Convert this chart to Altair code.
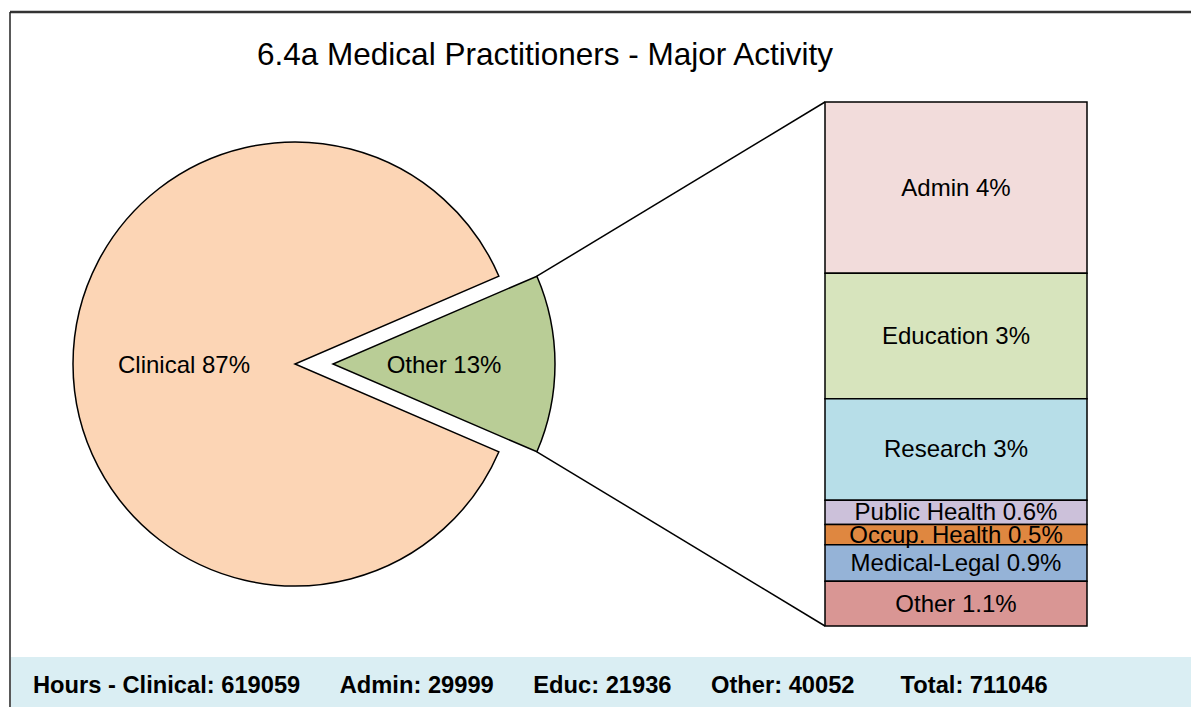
import math
import altair as alt
import pandas as pd

# ---------------- data ----------------
title_text = "6.4a Medical Practitioners - Major Activity"

pie_labels = ["Other", "Clinical"]
pie_pct = [12.94, 87.06]
pie_text = ["Other 13%", "Clinical 87%"]

bar_labels = ["Admin", "Education", "Research", "Public Health",
              "Occup. Health", "Medical-Legal", "Other"]
bar_pct = [4.22, 3.09, 2.50, 0.60, 0.50, 0.90, 1.10]
bar_pct_text = ["4%", "3%", "3%", "0.6%", "0.5%", "0.9%", "1.1%"]

hours_labels = ["Clinical", "Admin", "Educ", "Other", "Total"]
hours_values = [619059, 29999, 21936, 40052, 711046]

# ---------------- styles / layout ----------------
FONT = "Liberation Sans"
pie_colors = ["#B9CD96", "#FCD5B5"]
bar_colors = ["#F2DCDB", "#D7E4BD", "#B7DEE8", "#CCC1DA",
              "#DF8740", "#95B3D7", "#D99694"]
band_color = "#DAEEF3"

W, H = 1183, 699
R = 222
CY = 356
CX_CLIN = 287
EXPLODE = 38
BAR_X0, BAR_X1 = 817, 1079
BAR_TOP, BAR_BOTTOM = 94, 618
LABEL_SIZE = 24

pie_total = sum(pie_pct)
bar_total = sum(bar_pct)
half = math.pi * pie_pct[0] / pie_total
start = math.pi / 2 - half
theta_scale = alt.Scale(domain=[0, pie_total], range=[start, start + 2 * math.pi])

pie_df = pd.DataFrame({"cat": pie_labels, "pct": pie_pct, "text": pie_text,
                       "order": list(range(len(pie_labels)))})
pie_base = alt.Chart(pie_df).transform_window(
    cum="sum(pct)", sort=[alt.SortField("order", order="ascending")], frame=[None, 0]
).transform_calculate(lo="datum.cum - datum.pct", mid="datum.cum - datum.pct / 2")

layers = []

# frame
one = pd.DataFrame({"k": [0]})
layers.append(alt.Chart(one).mark_rect(color=band_color).encode(
    x=alt.value(3), x2=alt.value(W), y=alt.value(649), y2=alt.value(H)))
layers.append(alt.Chart(one).mark_rule(color="#333333", strokeWidth=2.5).encode(
    x=alt.value(2), x2=alt.value(W), y=alt.value(4)))
layers.append(alt.Chart(one).mark_rule(color="#222222", strokeWidth=1.5).encode(
    x=alt.value(2), y=alt.value(4), y2=alt.value(H)))

# pie slices
for i, cat in enumerate(pie_labels):
    cx = CX_CLIN + (EXPLODE if cat == "Other" else 0)
    sub = pie_base.transform_filter(f"datum.order == {i}")
    layers.append(sub.mark_arc(outerRadius=R, stroke="black", strokeWidth=1.5,
                               fill=pie_colors[i]).encode(
        theta=alt.Theta("lo:Q", scale=theta_scale, stack=None),
        theta2="cum:Q",
        x=alt.value(cx), y=alt.value(CY)))
    layers.append(sub.mark_text(radius=R / 2, fontSize=LABEL_SIZE, font=FONT, color="black",
                                dy=2).encode(
        theta=alt.Theta("mid:Q", scale=theta_scale, stack=None),
        text="text:N",
        x=alt.value(cx), y=alt.value(CY)))

# connector lines from the exploded slice to the bar
cxo = CX_CLIN + EXPLODE
ex = cxo + R * math.cos(half)
ey_top = CY - R * math.sin(half)
ey_bot = CY + R * math.sin(half)
layers.append(alt.Chart(one).mark_rule(color="black", strokeWidth=1.5).encode(
    x=alt.value(ex), y=alt.value(ey_top), x2=alt.value(BAR_X0), y2=alt.value(BAR_TOP)))
layers.append(alt.Chart(one).mark_rule(color="black", strokeWidth=1.5).encode(
    x=alt.value(ex), y=alt.value(ey_bot), x2=alt.value(BAR_X0), y2=alt.value(BAR_BOTTOM)))

# stacked bar
bar_df = pd.DataFrame({"cat": bar_labels, "pct": bar_pct,
                       "text": [f"{c} {t}" for c, t in zip(bar_labels, bar_pct_text)],
                       "rank": list(range(len(bar_labels)))})
bar_base = alt.Chart(bar_df).transform_window(
    cum="sum(pct)", sort=[alt.SortField("rank", order="descending")], frame=[None, 0]
).transform_calculate(lo="datum.cum - datum.pct", mid="datum.cum - datum.pct / 2")
y_scale = alt.Scale(domain=[0, bar_total], range=[BAR_BOTTOM, BAR_TOP])

layers.append(bar_base.mark_bar(stroke="black", strokeWidth=1.5).encode(
    x=alt.value(BAR_X0), x2=alt.value(BAR_X1),
    y=alt.Y("lo:Q", scale=y_scale, axis=None), y2="cum:Q",
    color=alt.Color("cat:N", scale=alt.Scale(domain=bar_labels, range=bar_colors), legend=None)))
layers.append(bar_base.mark_text(fontSize=LABEL_SIZE, font=FONT, color="black", dy=1).encode(
    x=alt.value((BAR_X0 + BAR_X1) / 2),
    y=alt.Y("mid:Q", scale=y_scale, axis=None),
    text="text:N"))

# title
layers.append(alt.Chart(pd.DataFrame({"t": [title_text]})).mark_text(
    fontSize=31.5, font=FONT, color="black").encode(
    x=alt.value(537), y=alt.value(48), text="t:N"))

# hours footer
sep = "\u00a0" * 6
hours_text = "Hours -\u00a0" + "".join(
    (("" if i == 0 else sep + ("\u00a0" if l == "Total" else "")) + f"{l}:\u00a0{v}")
    for i, (l, v) in enumerate(zip(hours_labels, hours_values)))
layers.append(alt.Chart(pd.DataFrame({"t": [hours_text]})).mark_text(
    fontSize=23.7, font=FONT, fontWeight="bold", color="black", align="left", baseline="alphabetic").encode(
    x=alt.value(25), y=alt.value(685), text="t:N"))

chart = alt.layer(*layers).properties(
    width=W, height=H, autosize="none", padding=0
).configure_view(stroke=None)

chart.save("out.html", embed_options={"renderer": "svg", "actions": False})
